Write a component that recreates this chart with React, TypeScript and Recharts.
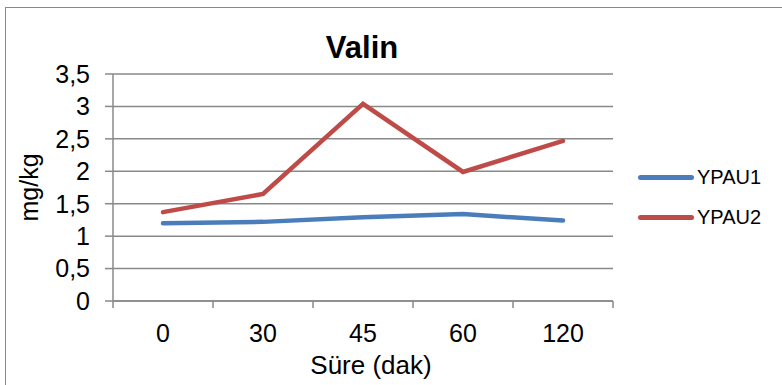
import React from 'react';
import { LineChart, Line, XAxis, YAxis, CartesianGrid, Legend } from 'recharts';

const minutes = ['0', '30', '45', '60', '120'];
const ypau1 = [1.2, 1.22, 1.29, 1.34, 1.24];
const ypau2 = [1.37, 1.65, 3.04, 1.99, 2.47];
const yTicks = [0, 0.5, 1, 1.5, 2, 2.5, 3, 3.5];

const data = minutes.map((m, i) => ({ t: m, YPAU1: ypau1[i], YPAU2: ypau2[i] }));

const FONT = '"Liberation Sans", Arial, sans-serif';
const GRID = '#898989';
const LABEL_GAP = 23;

// category labels sit mid-band, tick marks sit on band edges (Excel style)
function CatTick(props: any) {
  const { x, y, payload, width, visibleTicksCount, index } = props;
  const half = (width || 500) / (visibleTicksCount || 5) / 2;
  const axisY = y - LABEL_GAP;
  const last = index === visibleTicksCount - 1;
  return (
    <g>
      <line x1={x - half} x2={x - half} y1={axisY} y2={axisY + 7} stroke={GRID} strokeWidth={1.5} />
      {last && (
        <line x1={x + half} x2={x + half} y1={axisY} y2={axisY + 7} stroke={GRID} strokeWidth={1.5} />
      )}
      <text x={x} y={y} dy="0.71em" textAnchor="middle" fontSize={25} fontFamily={FONT} fill="#000">
        {payload.value}
      </text>
    </g>
  );
}

function renderLegend(props: any) {
  const items = props.payload || [];
  return (
    <div style={{ fontFamily: FONT, fontSize: 20, color: '#000' }}>
      {items.map((it: any) => (
        <div key={it.value} style={{ display: 'flex', alignItems: 'center', height: 40 }}>
          <span
            style={{
              display: 'inline-block',
              width: 56,
              height: 5,
              borderRadius: 3,
              background: it.color,
              marginRight: 3,
            }}
          />
          <span>{it.value}</span>
        </div>
      ))}
    </div>
  );
}

export default function App() {
  return (
    <div
      style={{
        position: 'fixed',
        left: 0,
        top: 0,
        width: 782,
        height: 385,
        overflow: 'hidden',
        background: '#fff',
        fontFamily: FONT,
      }}
    >
      <div
        style={{
          position: 'absolute',
          left: 5,
          top: 7,
          width: 820,
          height: 420,
          border: `1.5px solid ${GRID}`,
        }}
      />
      <div
        style={{
          position: 'absolute',
          left: 262,
          width: 200,
          top: 30,
          textAlign: 'center',
          fontSize: 31,
          fontWeight: 'bold',
          color: '#000',
        }}
      >
        Valin
      </div>
      <div style={{ position: 'absolute', left: 0, top: 0 }}>
        <LineChart
          width={782}
          height={385}
          data={data}
          margin={{ top: 74, right: 169, bottom: 0, left: 0 }}
        >
          <CartesianGrid vertical={false} stroke={GRID} strokeWidth={1.5} />
          <XAxis
            dataKey="t"
            scale="band"
            height={84}
            interval={0}
            axisLine={{ stroke: GRID, strokeWidth: 1.5 }}
            tickLine={false}
            tickSize={0}
            tickMargin={LABEL_GAP}
            tick={<CatTick />}
            label={{
              content: (p: any) => (
                <text
                  x={p.viewBox.x + p.viewBox.width / 2 + 8}
                  y={p.viewBox.y + 73}
                  textAnchor="middle"
                  fontSize={26}
                  fontFamily={FONT}
                  fill="#000"
                >
                  Süre (dak)
                </text>
              ),
            }}
          />
          <YAxis
            width={113}
            domain={[0, 3.5]}
            ticks={yTicks}
            interval={0}
            tickSize={8}
            tickMargin={15}
            tickFormatter={(v: number) => String(v).replace('.', ',')}
            tick={{ fill: '#000', fontSize: 25, fontFamily: FONT }}
            axisLine={{ stroke: GRID, strokeWidth: 1.5 }}
            tickLine={{ stroke: GRID, strokeWidth: 1.5 }}
            label={{
              content: (p: any) => {
                const cy = p.viewBox.y + p.viewBox.height / 2;
                return (
                  <text
                    x={38}
                    y={cy}
                    transform={`rotate(-90, 38, ${cy})`}
                    textAnchor="middle"
                    fontSize={25}
                    fontFamily={FONT}
                    fill="#000"
                  >
                    mg/kg
                  </text>
                );
              },
            }}
          />
          <Legend
            layout="vertical"
            verticalAlign="middle"
            align="center"
            content={renderLegend}
            wrapperStyle={{ position: 'absolute', left: 638, top: 157, width: 140 }}
          />
          <Line
            dataKey="YPAU1"
            stroke="#4A7EBB"
            strokeWidth={4.5}
            strokeLinecap="round"
            dot={false}
            activeDot={false}
            isAnimationActive={false}
          />
          <Line
            dataKey="YPAU2"
            stroke="#BE4B48"
            strokeWidth={4.5}
            strokeLinecap="round"
            dot={false}
            activeDot={false}
            isAnimationActive={false}
          />
        </LineChart>
      </div>
    </div>
  );
}
